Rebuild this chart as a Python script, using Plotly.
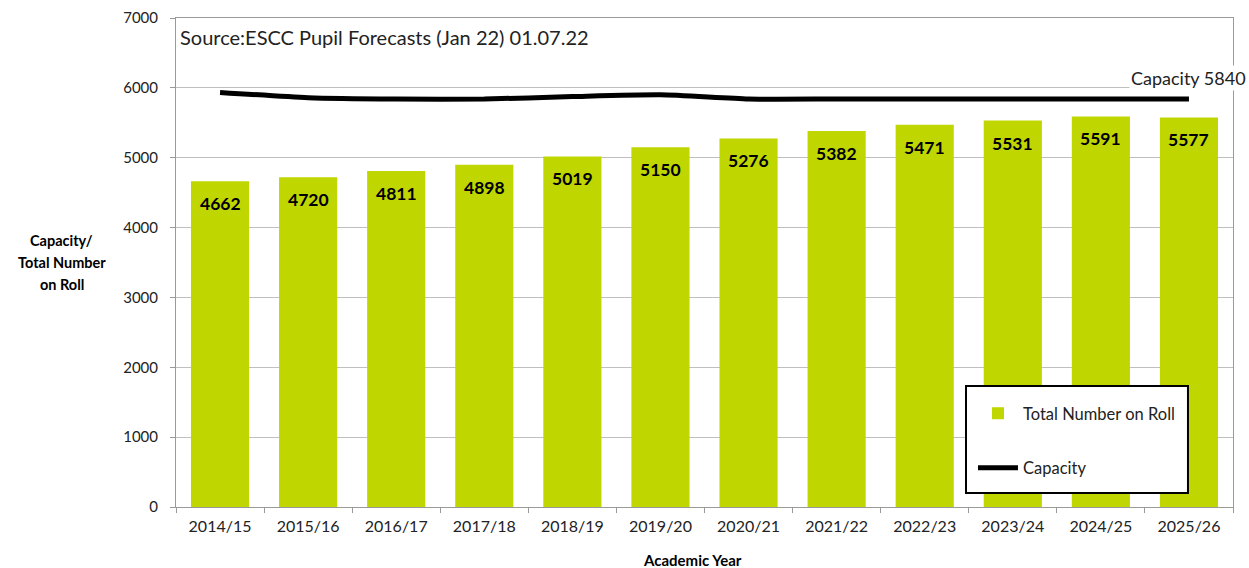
import plotly.graph_objects as go

years = ["2014/15", "2015/16", "2016/17", "2017/18", "2018/19", "2019/20",
         "2020/21", "2021/22", "2022/23", "2023/24", "2024/25", "2025/26"]
roll = [4662, 4720, 4811, 4898, 5019, 5150, 5276, 5382, 5471, 5531, 5591, 5577]
capacity = [5935, 5860, 5840, 5840, 5875, 5900, 5840, 5840, 5840, 5840, 5840, 5840]
y_ticks = [0, 1000, 2000, 3000, 4000, 5000, 6000, 7000]
y_title_lines = ["Capacity/", "Total Number", "on Roll"]

FONT = "Lato"
GREEN = "#BFD600"
GRID = "#BFBFBF"
AXIS = "#9A9A9A"

fig = go.Figure()
fig.add_trace(go.Bar(
    x=years, y=roll, name="Total Number on Roll",
    marker=dict(color=GREEN, line=dict(width=0)),
    width=0.66, legendgroup="a",
))
fig.add_trace(go.Scatter(
    x=years, y=capacity, name="Capacity", mode="lines",
    line=dict(color="black", width=5, shape="spline", smoothing=0.6),
    legendgroup="b",
))

annotations = []
for yr, v in zip(years, roll):
    annotations.append(dict(
        x=yr, y=v, xref="x", yref="y", text=f"<b>{v}</b>", showarrow=False,
        yanchor="top", yshift=-10, font=dict(family=FONT, size=17.5, color="black"),
    ))

annotations.append(dict(
    x=1, y=capacity[-1], xref="paper", yref="y", text=f"Capacity {capacity[-1]}",
    showarrow=False, xanchor="right", yanchor="middle", xshift=15, yshift=21,
    bgcolor="white", font=dict(family=FONT, size=18, color="#222222"),
))
annotations.append(dict(
    x=0, y=1, xref="paper", yref="paper", text="Source:ESCC Pupil Forecasts (Jan 22) 01.07.22",
    showarrow=False, xanchor="left", yanchor="top", xshift=2, yshift=-5,
    font=dict(family=FONT, size=20, color="#222222"),
))
for i, line in enumerate(y_title_lines):
    annotations.append(dict(
        x=-0.108, y=0.5, xref="paper", yref="paper", text=f"<b>{line}</b>",
        showarrow=False, xanchor="center", yanchor="middle", yshift=22 * (1 - i),
        font=dict(family=FONT, size=14.5, color="black"),
    ))
annotations.append(dict(
    x=0.489, y=0, xref="paper", yref="paper", text="<b>Academic Year</b>",
    showarrow=False, xanchor="center", yanchor="middle", yshift=-53,
    font=dict(family=FONT, size=15, color="black"),
))

# legend frame
shapes = [dict(
    type="rect", xref="paper", yref="paper",
    x0=0.7474, x1=0.9574, y0=0.0286, y1=0.2474,
    line=dict(color="black", width=2), fillcolor="white", layer="above",
)]

fig.update_layout(
    width=1249, height=568,
    margin=dict(l=176, r=16, t=18, b=61),
    paper_bgcolor="white", plot_bgcolor="white",
    font=dict(family=FONT, size=15, color="#222222"),
    annotations=annotations,
    shapes=shapes,
    showlegend=True,
    legend=dict(
        x=0.754, y=0.227, xanchor="left", yanchor="top",
        bgcolor="rgba(0,0,0,0)", borderwidth=0,
        font=dict(family=FONT, size=16.5, color="#222222"),
        traceorder="grouped", tracegroupgap=30,
        itemwidth=40,
    ),
    xaxis=dict(
        type="category", showline=True, linecolor=AXIS, linewidth=1, mirror=True,
        showgrid=False, ticks="outside", ticklen=5, tickcolor=AXIS,
        tickson="boundaries", tickfont=dict(family=FONT, size=16, color="#222222"),
        ticklabelstandoff=5, automargin=False,
    ),
    yaxis=dict(
        range=[0, 7000], tickvals=y_ticks, showline=True, linecolor=AXIS,
        linewidth=1, mirror=True, showgrid=True, gridcolor=GRID, gridwidth=1,
        ticks="outside", ticklen=5, tickcolor=AXIS,
        tickfont=dict(family=FONT, size=15, color="#222222"),
        ticklabelstandoff=9, zeroline=False, automargin=False,
    ),
)

# remove the default 8px page margin so the figure fills the window exactly
fig.write_html(
    "out.html",
    config={"displayModeBar": False},
    post_script="document.body.style.margin='0px';document.body.style.overflow='hidden';",
)
